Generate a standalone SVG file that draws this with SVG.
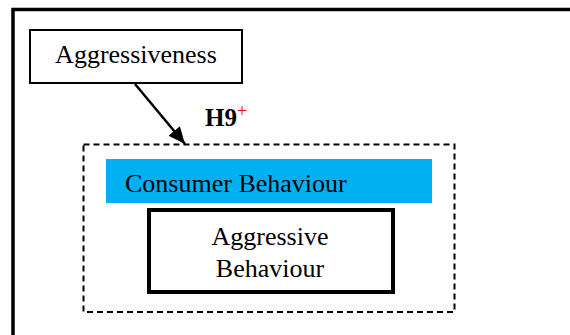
<svg xmlns="http://www.w3.org/2000/svg" width="570" height="335" viewBox="0 0 570 335">
  <style>
    .lbl { font-family: "Liberation Serif", "Times New Roman", serif; font-size: 26px; fill: #000; }
    .node { fill: #fff; stroke: #000; }
  </style>
  <defs>
    <marker id="head" viewBox="0 0 17 15" refX="17" refY="7.5" markerWidth="17" markerHeight="15" markerUnits="userSpaceOnUse" orient="auto">
      <path d="M0,0 L17,7.5 L0,15 z" fill="#000"/>
    </marker>
  </defs>
  <rect width="570" height="335" fill="#fff"/>

  <!-- outer frame -->
  <rect x="13" y="9.5" width="600" height="360" fill="none" stroke="#000" stroke-width="3.5"/>

  <g id="aggressiveness">
    <rect class="node" x="30" y="30" width="212" height="53" stroke-width="2"/>
    <text class="lbl" x="136" y="63" text-anchor="middle">Aggressiveness</text>
  </g>

  <g id="consumer-behaviour">
    <rect x="83.5" y="144.5" width="371" height="167.5" fill="none" stroke="#000" stroke-width="2" stroke-dasharray="6,4"/>
    <rect x="106" y="159" width="326" height="44" fill="#00B0F0"/>
    <text class="lbl" x="125" y="192">Consumer Behaviour</text>
  </g>

  <g id="aggressive-behaviour">
    <rect class="node" x="149" y="210" width="244" height="82" stroke-width="4"/>
    <text class="lbl" x="270" y="245" text-anchor="middle">Aggressive</text>
    <text class="lbl" x="270" y="277" text-anchor="middle">Behaviour</text>
  </g>

  <g id="connectors">
    <line x1="135" y1="84" x2="185" y2="144" stroke="#000" stroke-width="2.5" marker-end="url(#head)"/>
    <text x="205" y="126" font-family="Liberation Serif, serif" font-weight="bold" font-size="25">H9<tspan font-size="18" font-weight="normal" fill="#f00" dy="-9">+</tspan></text>
  </g>
</svg>
